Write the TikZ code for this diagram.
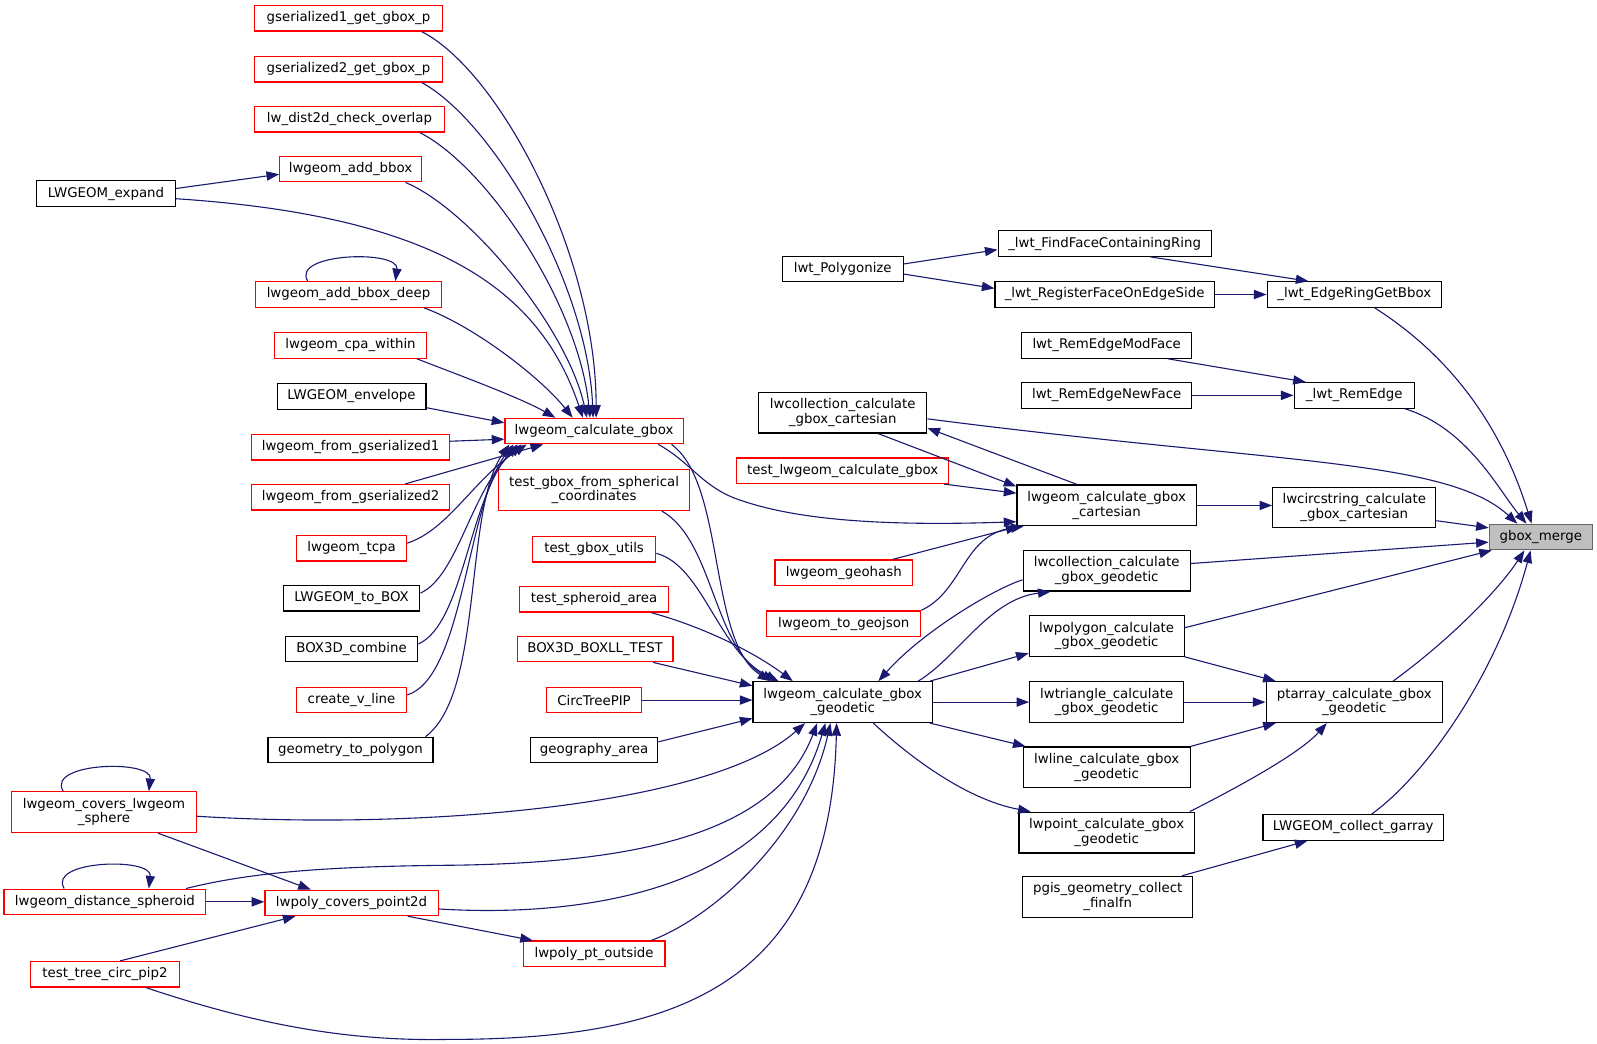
\documentclass[tikz,border=0pt]{standalone}
\usepackage{fontspec}
\setmainfont{DejaVu Sans}
\usetikzlibrary{arrows.meta,calc}
\definecolor{edgec}{HTML}{191970}
\definecolor{rootfill}{HTML}{BFBFBF}
\definecolor{rootdraw}{HTML}{666666}
\newcommand\nfont{\fontsize{6.67pt}{7.3pt}\selectfont}
\tikzset{
  nb/.style={draw=black, line width=0.6pt, fill=white, inner sep=0pt, minimum height=25*0.5095pt, align=center, font=\nfont},
  nr/.style={nb, draw=red},
  root/.style={nb, draw=rootdraw, fill=rootfill},
  mw/.style={minimum width=#1*0.5095pt},
  h2/.style={minimum height=40*0.5095pt},
  e/.style={draw=edgec, line width=0.55pt, -{Triangle[length=6.3pt,width=4.6pt]}},
}
\begin{document}
\begin{tikzpicture}[x=0.5095pt, y=-0.5095pt]
\useasboundingbox (0,0) rectangle (1567.2,1024.5);
% left column
\node[nr,mw=184] (gs1) at (342,18) {gserialized1\_get\_gbox\_p};
\node[nr,mw=184] (gs2) at (342,68) {gserialized2\_get\_gbox\_p};
\node[nr,mw=186] (lwd) at (343,117) {lw\_dist2d\_check\_overlap};
\node[nr,mw=139] (lab) at (344,166) {lwgeom\_add\_bbox};
\node[nb,mw=136] (lex) at (104,190) {LWGEOM\_expand};
\node[nr,mw=183] (labd) at (342,289) {lwgeom\_add\_bbox\_deep};
\node[nr,mw=149] (lcpa) at (344,339) {lwgeom\_cpa\_within};
\node[nb,mw=146] (lenv) at (345,389) {LWGEOM\_envelope};
\node[nr,mw=194] (lfg1) at (344,439) {lwgeom\_from\_gserialized1};
\node[nr,mw=194] (lfg2) at (344,488) {lwgeom\_from\_gserialized2};
\node[nr,mw=108] (ltcpa) at (345,538) {lwgeom\_tcpa};
\node[nb,mw=134] (ltobox) at (345,587) {LWGEOM\_to\_BOX};
\node[nb,mw=130] (b3c) at (345,637) {BOX3D\_combine};
\node[nr,mw=108] (cvl) at (345,687) {create\_v\_line};
\node[nb,mw=162] (gtp) at (344,736) {geometry\_to\_polygon};
% middle column
\node[nr,mw=175] (lcg) at (583,423) {lwgeom\_calculate\_gbox};
\node[nr,mw=188,h2] (tgfs) at (583,481) {test\_gbox\_from\_spherical\\\_coordinates};
\node[nr,mw=121] (tgu) at (583,539) {test\_gbox\_utils};
\node[nr,mw=146] (tsa) at (583,588) {test\_spheroid\_area};
\node[nr,mw=153] (bbt) at (584,637) {BOX3D\_BOXLL\_TEST};
\node[nr,mw=93] (ctp) at (583,687) {CircTreePIP};
\node[nb,mw=125] (gga) at (583,736) {geography\_area};
% bottom left
\node[nr,mw=181,h2] (lcls) at (102,797) {lwgeom\_covers\_lwgeom\\\_sphere};
\node[nr,mw=198] (lds) at (103,885) {lwgeom\_distance\_spheroid};
\node[nr,mw=170] (lpcp) at (345,886) {lwpoly\_covers\_point2d};
\node[nr,mw=139] (lppo) at (583,936) {lwpoly\_pt\_outside};
\node[nr,mw=146] (ttcp) at (103,956) {test\_tree\_circ\_pip2};
% right part
\node[nb,mw=176,h2] (lcgg) at (827,689) {lwgeom\_calculate\_gbox\\\_geodetic};
\node[nb,mw=119] (ltp) at (827,264) {lwt\_Polygonize};
\node[nb,mw=209] (ffcr) at (1084,239) {\_lwt\_FindFaceContainingRing};
\node[nb,mw=215] (rfes) at (1084,289) {\_lwt\_RegisterFaceOnEdgeSide};
\node[nb,mw=171] (ergb) at (1329,289) {\_lwt\_EdgeRingGetBbox};
\node[nb,mw=167] (remf) at (1086,339) {lwt\_RemEdgeModFace};
\node[nb,mw=167] (renf) at (1086,388) {lwt\_RemEdgeNewFace};
\node[nb,mw=118] (rem) at (1329,388) {\_lwt\_RemEdge};
\node[nb,mw=165,h2] (lcc) at (827,405) {lwcollection\_calculate\\\_gbox\_cartesian};
\node[nr,mw=208] (tlcg) at (827,462) {test\_lwgeom\_calculate\_gbox};
\node[nb,mw=176,h2] (lgc) at (1086,496) {lwgeom\_calculate\_gbox\\\_cartesian};
\node[nb,mw=160,h2] (lcsc) at (1329,498) {lwcircstring\_calculate\\\_gbox\_cartesian};
\node[root,mw=101] (gbm) at (1512,527) {gbox\_merge};
\node[nr,mw=135] (lgh) at (828,562) {lwgeom\_geohash};
\node[nr,mw=151] (ltgj) at (828,612) {lwgeom\_to\_geojson};
\node[nb,mw=164,h2] (lcolg) at (1086,560) {lwcollection\_calculate\\\_gbox\_geodetic};
\node[nb,mw=152,h2] (lpolg) at (1086,624) {lwpolygon\_calculate\\\_gbox\_geodetic};
\node[nb,mw=151,h2] (ltrg) at (1086,689) {lwtriangle\_calculate\\\_gbox\_geodetic};
\node[nb,mw=173,h2] (ptg) at (1329,689) {ptarray\_calculate\_gbox\\\_geodetic};
\node[nb,mw=164,h2] (llg) at (1086,753) {lwline\_calculate\_gbox\\\_geodetic};
\node[nb,mw=172,h2] (lptg) at (1086,817) {lwpoint\_calculate\_gbox\\\_geodetic};
\node[nb,mw=177] (lcga) at (1328,812) {LWGEOM\_collect\_garray};
\node[nb,mw=167,h2] (pgcf) at (1087,880) {pgis\_geometry\_collect\\\_finalfn};

% ---- edges into lwgeom_calculate_gbox
\draw[e] ($(gs1.south)+(72,0)$) .. controls (490,70) and (585,250) .. ($(lcg.north)+(2,0)$);
\draw[e] ($(gs2.south)+(72,0)$) .. controls (485,120) and (577,280) .. ($(lcg.north)+(-1,0)$);
\draw[e] ($(lwd.south)+(69,0)$) .. controls (480,165) and (568,300) .. ($(lcg.north)+(-4,0)$);
\draw[e] ($(lab.south)+(54,0)$) .. controls (460,205) and (556,320) .. ($(lcg.north)+(-7,0)$);
\draw[e] ($(lex.east)+(0,5)$) .. controls (430,212) and (530,285) .. ($(lcg.north)+(-11,0)$);
\draw[e] ($(lex.east)+(0,-5)$) -- ($(lab.west)+(0,5)$);
\draw[e] ($(labd.north)+(-40,0)$) .. controls (285,248) and (392,245) .. ($(labd.north)+(46,0)$);
\draw[e] ($(labd.south east)+(-18,0)$) .. controls (465,320) and (530,370) .. ($(lcg.north)+(-21,0)$);
\draw[e] ($(lcpa.south east)+(-10,0)$) .. controls (450,368) and (510,390) .. ($(lcg.north)+(-38,0)$);
\draw[e] ($(lenv.south east)+(0,-2)$) -- ($(lcg.north west)+(0,5)$);
\draw[e] ($(lfg1.east)+(0,-6)$) -- ($(lcg.west)+(0,8)$);
\draw[e] ($(lfg2.north east)+(-44,0)$) -- ($(lcg.south)+(-50,0)$);
\draw[e] ($(ltcpa.east)+(0,-5)$) .. controls (440,520) and (465,470) .. ($(lcg.south west)+(22,0)$);
\draw[e] ($(ltobox.east)+(0,-5)$) .. controls (450,565) and (462,480) .. ($(lcg.south west)+(17,0)$);
\draw[e] ($(b3c.east)+(0,-5)$) .. controls (455,612) and (460,490) .. ($(lcg.south west)+(13,0)$);
\draw[e] ($(cvl.east)+(0,-5)$) .. controls (455,665) and (458,495) .. ($(lcg.south west)+(9,0)$);
\draw[e] ($(gtp.north east)+(-8,0)$) .. controls (475,680) and (455,500) .. ($(lcg.south west)+(5,0)$);

% ---- from lwgeom_calculate_gbox
\draw[e] ($(lcg.south)+(63,0)$) .. controls (680,455) and (690,480) .. (730,492) .. controls (790,512) and (880,516) .. ($(lgc.west)+(0,16)$);
\draw[e] ($(lcg.south)+(76,0)$) .. controls (712,475) and (695,630) .. ($(lcgg.north)+(-71,0)$);

% ---- into lwgeom_calculate_gbox_geodetic
\draw[e] ($(tgfs.south east)+(-28,0)$) .. controls (700,530) and (700,635) .. ($(lcgg.north)+(-67,0)$);
\draw[e] ($(tgu.east)+(0,4)$) .. controls (690,555) and (705,640) .. ($(lcgg.north)+(-63,0)$);
\draw[e] ($(tsa.south east)+(-18,0)$) .. controls (690,615) and (740,640) .. ($(lcgg.north)+(-49,0)$);
\draw[e] ($(bbt.south east)+(-20,0)$) -- ($(lcgg.west)+(0,-16)$);
\draw[e] (ctp.east) -- (ctp.east -| lcgg.west);
\draw[e] ($(gga.east)+(0,-8)$) -- ($(lcgg.west)+(0,16)$);
\draw[e] ($(lcls.east)+(0,4)$) .. controls (420,815) and (700,790) .. ($(lcgg.south)+(-37,0)$);
\draw[e] ($(lds.north east)+(-20,0)$) .. controls (250,855) and (330,850) .. (450,849) .. controls (620,846) and (760,820) .. ($(lcgg.south)+(-25,0)$);
\draw[e] ($(lpcp.east)+(0,6)$) .. controls (560,900) and (760,880) .. ($(lcgg.south)+(-17,0)$);
\draw[e] ($(lppo.north east)+(-14,0)$) .. controls (700,900) and (790,820) .. ($(lcgg.south)+(-12,0)$);
\draw[e] ($(ttcp.south)+(40,0)$) .. controls (250,1005) and (340,1022) .. (440,1020) .. controls (660,1020) and (815,970) .. ($(lcgg.south)+(-6,0)$);

% ---- bottom left
\draw[e] ($(lcls.north)+(-40,0)$) .. controls (45,748) and (150,745) .. ($(lcls.north)+(44,0)$);
\draw[e] ($(lds.north)+(-40,0)$) .. controls (46,844) and (150,841) .. ($(lds.north)+(43,0)$);
\draw[e] ($(lcls.south)+(53,0)$) -- ($(lpcp.north)+(-40,0)$);
\draw[e] (lds.east) -- (lds.east -| lpcp.west);
\draw[e] ($(ttcp.north)+(15,0)$) -- ($(lpcp.south)+(-55,0)$);
\draw[e] ($(lpcp.south)+(55,0)$) -- ($(lppo.north west)+(10,0)$);

% ---- topology part
\draw[e] ($(ltp.east)+(0,-5)$) -- ($(ffcr.west)+(0,6)$);
\draw[e] ($(ltp.east)+(0,5)$) -- ($(rfes.west)+(0,-6)$);
\draw[e] ($(ffcr.south)+(45,0)$) -- ($(ergb.north)+(-45,0)$);
\draw[e] (rfes.east) -- (ergb.west);
\draw[e] ($(remf.south)+(60,0)$) -- ($(rem.north west)+(12,0)$);
\draw[e] (renf.east) -- (rem.west);

% ---- into gbox_merge
\draw[e] ($(ergb.south)+(20,0)$) .. controls (1440,360) and (1480,440) .. ($(gbm.north)+(-9,0)$);
\draw[e] ($(rem.south east)+(-10,0)$) .. controls (1440,420) and (1470,480) .. ($(gbm.north)+(-14,0)$);
\draw[e] ($(lcc.east)+(0,6)$) .. controls (1250,455) and (1420,450) .. ($(gbm.north)+(-23,0)$);
\draw[e] ($(lcsc.east)+(0,13)$) -- ($(gbm.west)+(0,-9)$);
\draw[e] ($(lcolg.east)+(0,-7)$) -- ($(gbm.west)+(0,5)$);
\draw[e] ($(lpolg.east)+(0,-8)$) -- ($(gbm.south west)+(3,0)$);
\draw[e] ($(ptg.north)+(38,0)$) .. controls (1420,630) and (1470,580) .. ($(gbm.south)+(-16,0)$);
\draw[e] ($(lcga.north)+(18,0)$) .. controls (1400,760) and (1470,660) .. ($(gbm.south)+(-10,0)$);

% ---- cartesian part
\draw[e] ($(lgc.north)+(-29,0)$) -- ($(lcc.east)+(0,15)$);
\draw[e] ($(lcc.south)+(35,0)$) -- ($(lgc.north west)+(0,2)$);
\draw[e] ($(tlcg.south east)+(-5,0)$) -- ($(lgc.west)+(0,-12)$);
\draw[e] ($(lgh.north east)+(-20,0)$) -- ($(lgc.south west)+(2,0)$);
\draw[e] (ltgj.north east) .. controls (945,580) and (945,525) .. ($(lgc.south west)+(7,0)$);
\draw[e] (lgc.east) -- (lgc.east -| lcsc.west);

% ---- geodetic part
\draw[e] ($(lcolg.west)+(0,9)$) .. controls (975,578) and (905,620) .. ($(lcgg.north)+(35,0)$);
\draw[e] ($(lcgg.north)+(74,0)$) .. controls (940,645) and (970,588) .. ($(lcolg.south)+(-55,0)$);
\draw[e] ($(lcgg.north east)+(-3,0)$) -- ($(lpolg.west)+(0,17)$);
\draw[e] (lcgg.east) -- (ltrg.west);
\draw[e] ($(lcgg.south east)+(-3,0)$) -- ($(llg.north west)+(3,0)$);
\draw[e] ($(lcgg.south)+(30,0)$) .. controls (895,745) and (950,785) .. ($(lptg.north west)+(12,0)$);
\draw[e] (lpolg.south east) -- ($(ptg.north west)+(10,0)$);
\draw[e] (ltrg.east) -- (ptg.west);
\draw[e] (llg.north east) -- ($(ptg.south west)+(10,0)$);
\draw[e] ($(lptg.north east)+(-5,0)$) .. controls (1210,775) and (1275,740) .. ($(ptg.south)+(-27,0)$);
\draw[e] ($(pgcf.north)+(73,0)$) -- ($(lcga.south)+(-45,0)$);
\end{tikzpicture}
\end{document}
